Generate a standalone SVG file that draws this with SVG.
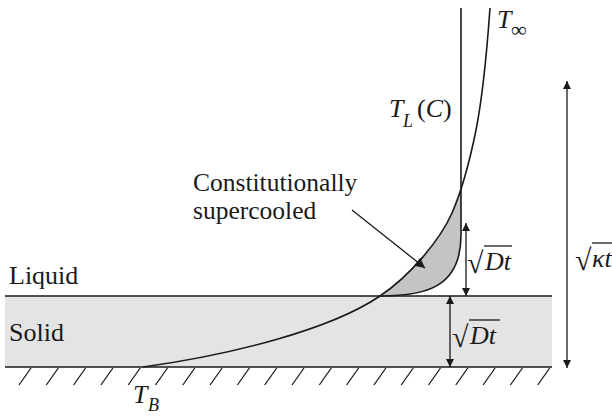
<svg xmlns="http://www.w3.org/2000/svg" width="612" height="416" viewBox="0 0 612 416">
<style>
text{font-family:"Liberation Serif","Times New Roman",serif;fill:#1a1a1a}
.lbl{font-size:26px}
.it{font-style:italic}
.sub{font-size:18px;font-style:italic}
.ln{fill:none;stroke:#1a1a1a;stroke-width:1.6}
.thin{fill:none;stroke:#1a1a1a;stroke-width:1.3}
</style>
<defs>
<marker id="ah" viewBox="0 0 10 10" refX="10" refY="5" markerWidth="8" markerHeight="15" markerUnits="userSpaceOnUse" orient="auto-start-reverse">
<path d="M0,0 L10,5 L0,10 Z" fill="#1a1a1a"/>
</marker>
<marker id="ah2" viewBox="0 0 10 10" refX="10" refY="5" markerWidth="16" markerHeight="10" markerUnits="userSpaceOnUse" orient="auto">
<path d="M0,0 L10,5 L0,10 Z" fill="#1a1a1a"/>
</marker>
</defs>
<g id="solid">
<rect x="5" y="296" width="547" height="71" fill="#e4e4e4"/>
<line class="ln" x1="5" y1="296" x2="552" y2="296"/>
<line class="ln" x1="5" y1="367" x2="552" y2="367"/>
<g class="thin" id="hatch">
<path d="M19,385 l12,-17 M46.3,385 l12,-17 M73.6,385 l12,-17 M100.9,385 l12,-17 M128.2,385 l12,-17 M155.5,385 l12,-17 M182.8,385 l12,-17 M210.1,385 l12,-17 M237.4,385 l12,-17 M264.7,385 l12,-17 M292,385 l12,-17 M319.3,385 l12,-17 M346.6,385 l12,-17 M373.9,385 l12,-17 M401.2,385 l12,-17 M428.5,385 l12,-17 M455.8,385 l12,-17 M483.1,385 l12,-17 M510.4,385 l12,-17 M537.7,385 l12,-17"/>
</g>
<text class="lbl" x="9" y="284">Liquid</text>
<text class="lbl" x="9" y="341">Solid</text>
</g>
<g id="supercooled-region">
<path d="M380,296 C410,276 440,240 452,213 L461,190 L461,235 C461,288 425,296 380,296 Z" fill="#c4c4c4"/>
</g>
<g id="curves">
<path id="T-inf-curve" class="ln" d="M143,367 C230,355 330,330 380,296 C410,276 440,240 452,213 C462,190 470,160 476,130 C482,100 487,50 490,8"/>
<path id="TL-curve" class="ln" d="M461,8 L461,235 C461,288 425,296 380,296"/>
</g>
<g id="labels">
<text x="497" y="28" class="it" font-size="26">T</text><text x="511" y="37" font-size="22">∞</text>
<text x="389" y="117" class="it" font-size="26">T</text><text x="403" y="127" class="sub">L</text>
<text x="417" y="117" font-size="26">(<tspan class="it">C</tspan>)</text>
<text x="133" y="403" class="it" font-size="26">T</text><text x="148" y="411" class="sub">B</text>
<text x="193" y="191" style="font-size:25.5px">Constitutionally</text>
<text x="193" y="219" style="font-size:25.5px">supercooled</text>
</g>
<g id="connectors">
<line class="thin" x1="352" y1="210" x2="425" y2="268" marker-end="url(#ah2)"/>
<line class="thin" x1="466" y1="223" x2="466" y2="296" marker-start="url(#ah)" marker-end="url(#ah)"/>
<line class="thin" x1="450" y1="296" x2="450" y2="367" marker-start="url(#ah)" marker-end="url(#ah)"/>
<line class="thin" x1="567" y1="81" x2="567" y2="368" marker-start="url(#ah)" marker-end="url(#ah)"/>
</g>
<g id="dim-labels">
<text x="467" y="273" font-size="30">√</text><line class="thin" x1="484" y1="246" x2="512" y2="246"/><text x="485" y="270" class="it" font-size="26">Dt</text>
<text x="452" y="347" font-size="30">√</text><line class="thin" x1="469" y1="320" x2="500" y2="320"/><text x="470" y="344" class="it" font-size="26">Dt</text>
<text x="575" y="270" font-size="30">√</text><line class="thin" x1="592" y1="243" x2="612" y2="243"/><text x="592" y="267" class="it" font-size="26">κt</text>
</g>
</svg>
